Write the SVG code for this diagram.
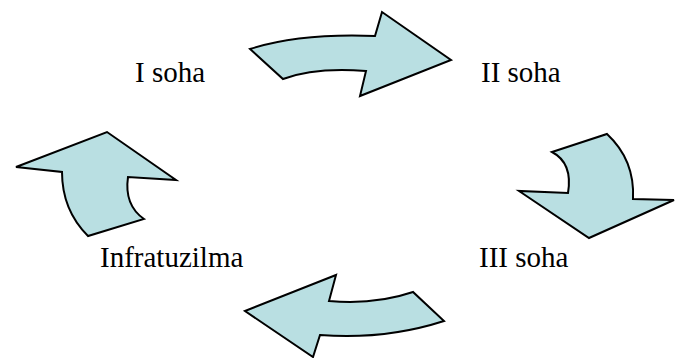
<svg xmlns="http://www.w3.org/2000/svg" width="675" height="358" viewBox="0 0 675 358">
<style>
.arr{fill:#b9dfe2;stroke:#000;stroke-width:2;stroke-linejoin:miter}
.lbl{font-family:"Liberation Serif","Times New Roman",serif;font-size:29px;fill:#000}
</style>
<rect width="675" height="358" fill="#fff"/>
<g id="connectors">
<path id="arrow-top" class="arr" d="M250,49 Q300,33 375,36 L382,12 L451,60 L360,96 L366,71 Q315,67 283,79 Z"/>
<path id="arrow-right" class="arr" d="M552,152 L607,134 Q635,160 633,199 L674,200 L589,238 L519,191 L568,193 Q573,163 552,152 Z"/>
<path id="arrow-bottom" class="arr" d="M245,311 L336,275 L329,301 Q375,305 413,292 L444,321 Q385,340 320,335 L313,357 Z"/>
<path id="arrow-left" class="arr" d="M16,167 L107,132 L176,180 L128,177 Q124,205 144,219 L88,236 Q62,210 62,172 Z"/>
</g>
<g id="node-1"><text class="lbl" x="135" y="82">I soha</text></g>
<g id="node-2"><text class="lbl" x="481" y="82">II soha</text></g>
<g id="node-3"><text class="lbl" x="479" y="267">III soha</text></g>
<g id="node-4"><text class="lbl" x="100" y="267">Infratuzilma</text></g>
</svg>
